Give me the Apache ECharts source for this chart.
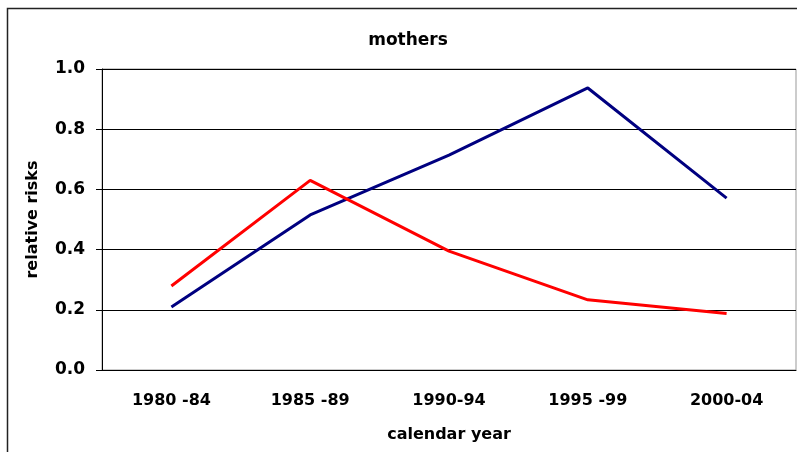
<!DOCTYPE html>
<html>
<head>
<meta charset="utf-8">
<script src="https://cdn.jsdelivr.net/npm/echarts@6/dist/echarts.min.js"></script>
<style>
  html, body { margin: 0; padding: 0; background: #fff; }
  #chart { width: 797px; height: 452px; }
</style>
</head>
<body>
<div id="chart"></div>
<script>
var periods = ['1980 -84', '1985 -89', '1990-94', '1995 -99', '2000-04'];
var blueSeries = [0.209, 0.515, 0.714, 0.937, 0.571];
var redSeries = [0.279, 0.630, 0.395, 0.233, 0.188];

var font = '"DejaVu Sans", "Liberation Sans", Arial, sans-serif';

var chart = echarts.init(document.getElementById('chart'));

var option = {
    animation: false,
    backgroundColor: '#fff',
    title: {
        text: 'mothers',
        left: 408,
        top: 27,
        textAlign: 'center',
        textStyle: { fontFamily: font, fontSize: 17, fontWeight: 'bold', color: '#000' }
    },
    graphic: [{
        type: 'rect',
        shape: { x: 7.5, y: 8.5, width: 820, height: 470 },
        style: { fill: null, stroke: '#222', lineWidth: 1.5 },
        silent: true
    }],
    grid: {
        left: 102,
        right: 1,
        top: 69,
        bottom: 82,
        outerBoundsMode: 'none',
        containLabel: false,
        show: true,
        borderColor: '#999',
        borderWidth: 1
    },
    xAxis: {
        type: 'category',
        data: periods,
        boundaryGap: true,
        name: 'calendar year',
        nameLocation: 'middle',
        nameGap: 57,
        nameTextStyle: { fontFamily: font, fontSize: 16, fontWeight: 'bold', color: '#000' },
        axisLine: { lineStyle: { color: '#000', width: 1 } },
        axisTick: { length: 6, lineStyle: { color: '#000' } },
        axisLabel: {
            margin: 23,
            fontFamily: font,
            fontSize: 16,
            fontWeight: 'bold',
            color: '#000'
        },
        splitLine: { show: false }
    },
    yAxis: {
        type: 'value',
        min: 0,
        max: 1,
        interval: 0.2,
        name: 'relative risks',
        nameLocation: 'middle',
        nameGap: 61,
        nameTextStyle: { fontFamily: font, fontSize: 16, fontWeight: 'bold', color: '#000' },
        axisLine: { show: true, lineStyle: { color: '#000', width: 1 } },
        axisTick: { show: true, length: 6, lineStyle: { color: '#000' } },
        axisLabel: {
            margin: 17,
            fontFamily: font,
            fontSize: 17,
            fontWeight: 'bold',
            color: '#000',
            formatter: function (v) { return v.toFixed(1); }
        },
        splitLine: { show: true, lineStyle: { color: '#000', width: 1, type: 'solid' } }
    },
    series: [{
        name: 'blue',
        type: 'line',
        data: blueSeries,
        symbol: 'none',
        lineStyle: { color: '#000080', width: 3 },
        z: 3
    }, {
        name: 'red',
        type: 'line',
        data: redSeries,
        symbol: 'none',
        lineStyle: { color: '#ff0000', width: 3 },
        z: 4
    }]
};

option.title.left = 403;

chart.setOption(option);
</script>
</body>
</html>
